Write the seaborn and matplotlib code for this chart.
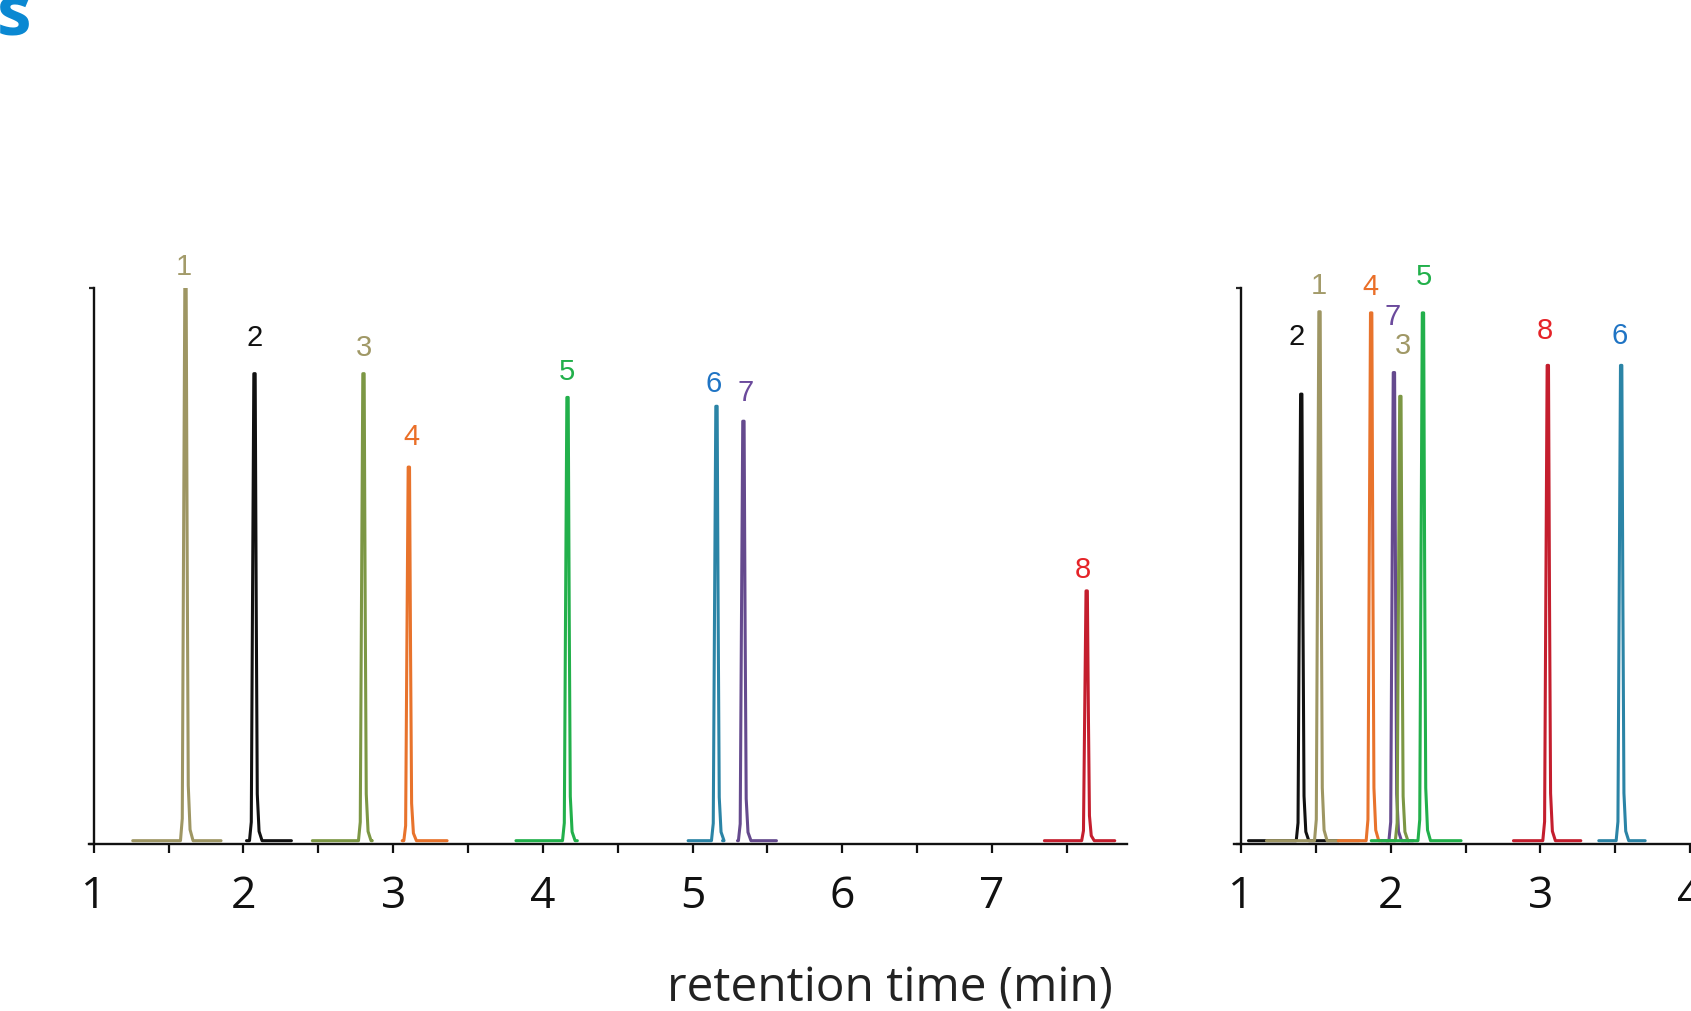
import matplotlib
matplotlib.use("Agg")
import matplotlib.pyplot as plt
import seaborn as sns
import numpy as np

# ---------------- data ----------------
# left panel
L_ids = ["1", "2", "3", "4", "5", "6", "7", "8"]
L_rt = [1.613, 2.074, 2.802, 3.105, 4.165, 5.160, 5.340, 7.633]
L_height = [1.000, 0.845, 0.845, 0.676, 0.802, 0.786, 0.759, 0.452]
L_base_start = [1.26, 2.02, 2.46, 3.06, 3.82, 4.97, 5.30, 7.35]
L_base_end = [1.85, 2.32, 2.86, 3.36, 4.23, 5.20, 5.56, 7.82]
L_label_x = [1.598, 2.074, 2.802, 3.120, 4.158, 5.138, 5.355, 7.604]
L_label_y = [1.039, 0.911, 0.893, 0.732, 0.850, 0.829, 0.812, 0.491]

# right panel
R_ids = ["2", "1", "4", "7", "3", "5", "8", "6"]
R_rt = [1.403, 1.525, 1.870, 2.022, 2.065, 2.216, 3.050, 3.540]
R_height = [0.808, 0.957, 0.955, 0.847, 0.804, 0.955, 0.860, 0.860]
R_base_start = [1.05, 1.17, 1.65, 1.94, 1.97, 1.87, 2.82, 3.39]
R_base_end = [1.65, 1.79, 1.94, 2.15, 2.12, 2.47, 3.27, 3.70]
R_label_x = [1.374, 1.518, 1.863, 2.014, 2.079, 2.223, 3.029, 3.532]
R_label_y = [0.913, 1.006, 1.004, 0.950, 0.897, 1.021, 0.924, 0.915]

# common peak outline (time offset from apex, fraction of height)
PROFILE_DT = [-0.034, -0.022, -0.014, -0.005, 0.004, 0.011, 0.018, 0.030, 0.050]
PROFILE_FRAC = [0.0, 0.04, 0.50, 1.0, 1.0, 0.50, 0.10, 0.02, 0.0]

x_ticks = [1, 1.5, 2, 2.5, 3, 3.5, 4, 4.5, 5, 5.5, 6, 6.5, 7, 7.5]
x_ticklabels = ["1", "", "2", "", "3", "", "4", "", "5", "", "6", "", "7", ""]
x_label = "retention time (min)"
corner_text = "s"

# styles per compound id
line_colors = {"1": "#9E9663", "2": "#111111", "3": "#7C9744", "4": "#E8732C",
               "5": "#22B04B", "6": "#2B84A6", "7": "#654A8E", "8": "#C41E2E"}
label_colors = {"1": "#A39B6A", "2": "#111111", "3": "#A09866", "4": "#EA6F28",
                "5": "#22B04B", "6": "#1F74C4", "7": "#6B4A9C", "8": "#E52328"}

# ---------------- figure ----------------
sns.set_style("white")
plt.rcParams["font.family"] = ["Open Sans", "DejaVu Sans"]

W, H = 1691, 1012
fig = plt.figure(figsize=(W / 100, H / 100), dpi=100)

PX_PER_MIN = 149.7
BASE_PX = 845.0
TOP_PX = 289.0


def make_axes(x_at_1, xmin, xmax):
    left_px = x_at_1 - (1 - xmin) * PX_PER_MIN
    width_px = (xmax - xmin) * PX_PER_MIN
    return fig.add_axes([left_px / W, (H - BASE_PX) / H, width_px / W, (BASE_PX - TOP_PX) / H])


def draw_panel(ax, ids, rts, hs, bs, be, lx, ly, xmin, xmax):
    for pid, rt, h, s, e in zip(ids, rts, hs, bs, be):
        xs = [s] + [rt + d for d in PROFILE_DT] + [e]
        ys = [0.0] + [h * f for f in PROFILE_FRAC] + [0.0]
        sns.lineplot(x=xs, y=ys, ax=ax, color=line_colors[pid], lw=2.2,
                     estimator=None, sort=False, legend=False)
    for pid, x, y in zip(ids, lx, ly):
        ax.text(x, y, pid, color=label_colors[pid], fontsize=21, ha="center", va="center",
                family=["Liberation Sans", "DejaVu Sans"], clip_on=False)
    sns.despine(ax=ax, top=True, right=True)
    ax.spines["left"].set_position(("data", 1.0))
    for sp in ("left", "bottom"):
        ax.spines[sp].set_linewidth(1.7)
        ax.spines[sp].set_color("#111111")
    ax.set_xticks(x_ticks)
    ax.set_xticklabels(x_ticklabels)
    ax.tick_params(axis="x", direction="out", length=6.5, width=1.6, pad=15,
                   labelsize=32, colors="#111111", bottom=True)
    ax.set_yticks([-0.006, 1.0])
    ax.set_yticklabels(["", ""])
    ax.tick_params(axis="y", direction="out", length=3.5, width=1.6, left=True)
    ax.set_xlabel("")
    ax.set_ylabel("")
    ax.set_xlim(xmin, xmax)
    ax.set_ylim(-0.006, 1.0)
    ax.patch.set_alpha(0)


ax1 = make_axes(93.8, 0.97, 7.9)
draw_panel(ax1, L_ids, L_rt, L_height, L_base_start, L_base_end, L_label_x, L_label_y, 0.97, 7.9)

ax2 = make_axes(1241.0, 0.955, 4.6)
draw_panel(ax2, R_ids, R_rt, R_height, R_base_start, R_base_end, R_label_x, R_label_y, 0.955, 4.6)

fig.text(890 / W, (H - 1002) / H, x_label, ha="center", va="baseline", fontsize=34.5,
         color="#222222")
fig.text(-3 / W, (H - 36) / H, corner_text, ha="left", va="baseline", fontsize=50,
         fontweight="bold", color="#0A88D2")

fig.savefig("out.png", dpi=100)
